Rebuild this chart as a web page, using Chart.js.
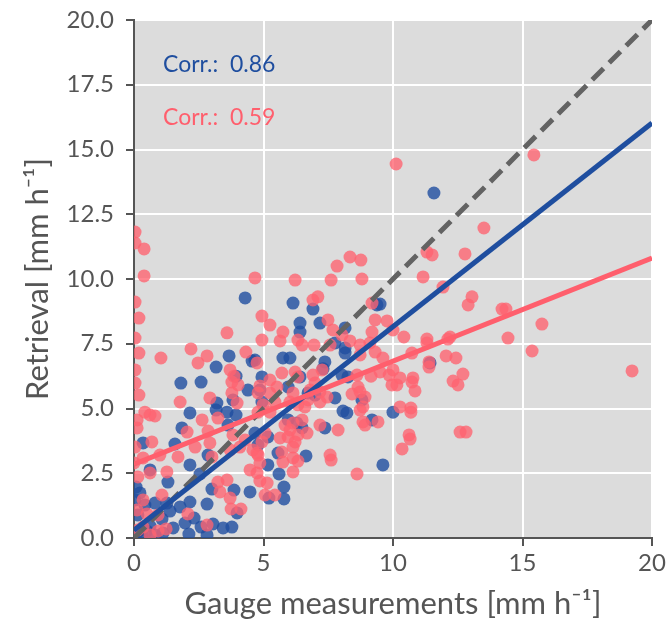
<!DOCTYPE html>
<html><head><meta charset="utf-8">
<script src="https://cdn.jsdelivr.net/npm/chart.js@4.4.0/dist/chart.umd.min.js"></script>
<style>html,body{margin:0;padding:0;background:#fff}#wrap{width:667px;height:628px}</style>
</head><body><div id="wrap"><canvas id="c" width="667" height="628"></canvas></div>
<script>
const xTicks = [0, 5, 10, 15, 20];
const yTicks = [0, 2.5, 5, 7.5, 10, 12.5, 15, 17.5, 20];

const redX = [0.04,0.04,0.39,0.39,0.04,0.19,0.04,0.19,0.04,0.04,0.19,0.12,0.12,0.42,0.62,0.81,1.04,2.20,2.47,2.82,
3.59,4.67,4.94,5.25,4.94,4.32,3.71,3.86,3.78,4.02,3.78,4.75,4.86,4.79,5.25,5.52,6.14,3.98,2.93,1.78,
2.63,3.24,2.86,2.05,3.82,4.09,4.29,3.71,4.59,4.86,5.64,5.71,6.14,6.14,6.14,5.95,5.44,5.06,3.59,3.24,
3.32,3.71,3.75,4.13,4.48,4.75,4.86,5.14,0.69,0.04,0.35,1.00,1.70,0.15,0.62,1.27,0.35,1.08,0.12,0.50,
0.93,2.08,2.82,0.35,0.93,1.24,0.00,2.36,2.93,3.01,4.75,7.57,7.61,8.61,4.94,6.22,4.79,6.33,5.64,5.75,
6.33,6.49,6.95,7.57,8.34,8.73,9.19,9.31,9.11,9.61,8.73,7.49,7.68,8.03,9.19,9.31,9.77,10.42,10.73,11.31,
11.31,12.20,12.05,12.43,12.70,12.32,12.51,10.77,10.73,10.85,9.85,10.00,10.27,9.96,10.15,9.50,9.15,10.27,10.69,10.69,
10.62,10.66,10.35,12.59,12.82,8.65,8.92,8.84,8.73,8.84,8.92,9.42,8.42,7.88,6.02,6.33,6.68,7.18,5.83,6.14,
5.25,5.71,6.22,6.33,6.91,7.26,6.99,7.18,7.45,6.80,6.72,6.33,6.02,5.44,4.98,4.79,5.25,6.60,7.18,6.49,
5.06,8.73,8.61,8.34,8.76,7.84,6.22,7.61,8.80,11.31,11.51,11.16,11.93,6.91,7.10,12.78,13.05,12.90,10.12,15.44,
13.51,14.21,14.36,15.75,14.44,15.37,19.23,10.00,12.12,11.39,11.39,0.15,0.62,5.75];
const redY = [11.81,11.39,11.16,10.12,9.11,8.49,7.72,7.14,6.49,5.98,5.52,4.56,4.25,4.86,4.75,4.71,6.95,7.30,6.76,7.03,
7.92,10.04,8.57,8.22,7.64,7.18,6.49,6.25,6.02,5.91,5.60,6.76,5.87,5.60,5.60,5.83,5.60,5.21,5.41,5.25,
4.56,4.63,4.13,4.09,3.98,3.51,3.78,3.40,3.40,2.90,3.86,3.32,3.51,3.09,2.55,3.90,1.66,1.66,2.24,2.16,
1.78,1.54,1.12,1.12,2.63,2.51,2.20,2.12,3.71,3.51,3.09,3.20,3.13,2.36,2.51,2.55,1.47,1.66,1.08,0.93,
0.89,0.93,0.50,0.42,0.27,0.35,2.90,3.51,3.67,3.13,3.28,3.20,3.01,2.47,3.71,3.71,3.20,2.97,7.61,7.95,
7.64,7.45,7.45,7.45,7.61,7.45,7.95,7.18,7.53,6.95,7.07,8.42,8.03,7.84,9.07,8.42,8.38,7.76,7.14,7.68,
7.53,7.76,7.03,6.95,6.33,6.06,5.91,6.18,6.02,5.68,6.29,6.49,6.18,5.91,5.91,6.41,6.25,5.06,5.02,4.86,
3.98,3.82,3.44,4.09,4.09,5.83,5.44,5.06,4.94,4.48,4.36,4.48,5.56,4.17,4.17,3.98,4.05,4.36,4.36,4.44,
6.10,6.37,6.41,6.22,6.29,6.49,5.98,5.64,5.44,5.71,5.33,5.14,5.25,5.25,5.14,4.86,4.86,5.06,5.25,4.56,
4.05,5.64,6.29,10.85,10.73,10.50,9.96,9.96,10.00,11.04,10.93,10.08,9.69,9.19,9.31,10.97,9.31,9.00,14.44,14.79,
11.97,8.84,8.84,8.26,7.72,7.22,6.45,8.03,7.68,6.80,6.60,0.31,0.12,2.93];

const blueX = [4.29,6.14,6.91,6.41,6.41,7.18,8.15,7.76,8.15,8.15,9.38,5.75,6.02,4.67,3.67,4.56,3.17,2.59,1.81,4.94,
3.94,4.40,5.95,6.41,7.37,7.30,8.03,8.26,4.86,6.99,6.72,7.76,8.80,3.20,3.82,3.17,3.59,3.94,2.16,1.85,
3.63,4.94,5.95,6.29,6.49,7.37,4.67,5.17,8.07,8.22,9.19,10.00,9.61,11.43,9.50,11.58,0.35,1.58,5.56,6.64,
5.17,5.60,5.79,5.79,5.21,4.79,2.86,2.16,2.55,1.31,3.01,3.86,4.48,2.16,2.82,1.78,1.39,1.08,2.32,1.97,
2.59,3.05,3.78,1.51,0.62,0.15,0.23,0.08,0.50,1.12,2.12,2.82,0.12,0.81,3.98,0.62,3.44,0.04,0.42,0.31,
0.81,1.27];
const blueY = [9.27,9.07,8.84,8.30,7.95,8.30,8.11,7.53,7.34,7.14,9.00,6.95,6.95,6.87,7.03,6.83,6.60,6.02,5.98,6.22,
6.25,5.71,5.83,6.22,6.80,6.53,6.29,6.22,5.71,5.52,5.60,5.41,5.33,5.21,5.33,4.94,4.86,4.75,4.83,4.25,
4.36,5.25,4.56,4.44,4.25,4.25,4.05,3.90,4.90,4.83,4.56,4.86,2.82,6.76,9.03,13.32,3.67,3.63,3.28,3.17,
2.82,2.47,1.97,1.51,1.54,3.59,3.20,2.82,2.47,2.16,1.89,1.85,1.78,1.39,1.31,1.20,1.04,0.73,0.77,0.58,
0.42,0.54,0.42,0.39,0.46,0.89,1.74,1.97,0.27,0.19,0.15,0.12,0.19,1.35,0.97,2.63,0.39,1.47,1.27,0.12,
0.12,1.35];

const lineX = [0, 20];
const oneToOneY = [0, 20];
const blueFitY = [0.30, 16.02];
const redFitY = [2.85, 10.81];

const corrText = ['Corr.:  0.86', 'Corr.:  0.59'];

const toPts = (xs, ys) => xs.map((x, i) => ({x: x, y: ys[i]}));

const BLUE = '#1f4e9f';
const RED = '#ff5f6d';
const TXT = '#555555';
const FONT = 'Lato, "DejaVu Sans", sans-serif';

const bgPlugin = {
  id: 'bg',
  beforeDraw(chart) {
    const a = chart.chartArea, c = chart.ctx;
    c.save();
    c.fillStyle = '#dcdcdc';
    c.fillRect(a.left, a.top, a.right - a.left, a.bottom - a.top);
    c.restore();
  }
};
const textPlugin = {
  id: 'corr',
  afterDraw(chart) {
    const c = chart.ctx, xs = chart.scales.x, ys = chart.scales.y;
    const cols = [BLUE, RED];
    const yPos = [18.26, 16.25];
    c.save();
    c.font = '23px ' + FONT;
    c.textAlign = 'left';
    c.textBaseline = 'middle';
    corrText.forEach((t, i) => {
      c.fillStyle = cols[i];
      c.fillText(t, xs.getPixelForValue(1.12), ys.getPixelForValue(yPos[i]));
    });
    c.restore();
  }
};

new Chart(document.getElementById('c'), {
  type: 'scatter',
  data: {
    datasets: [
      {data: toPts(lineX, redFitY), showLine: true, borderColor: RED, borderWidth: 5, pointRadius: 0, order: 0},
      {data: toPts(lineX, blueFitY), showLine: true, borderColor: BLUE, borderWidth: 5, pointRadius: 0, order: 1},
      {data: toPts(lineX, oneToOneY), showLine: true, borderColor: '#636363', borderWidth: 5, borderDash: [16, 8], pointRadius: 0, order: 2},
      {data: toPts(redX, redY), backgroundColor: 'rgba(255,99,112,0.78)', borderWidth: 0, pointRadius: 6.5, order: 3},
      {data: toPts(blueX, blueY), backgroundColor: 'rgba(31,78,160,0.8)', borderWidth: 0, pointRadius: 6.5, order: 4}
    ]
  },
  options: {
    responsive: false,
    animation: false,
    devicePixelRatio: 1,
    layout: {padding: {top: 20, right: 15, left: 0, bottom: 0}},
    plugins: {legend: {display: false}, tooltip: {enabled: false}},
    scales: {
      x: {
        type: 'linear', min: 0, max: 20,
        afterBuildTicks: s => { s.ticks = xTicks.map(v => ({value: v})); },
        afterFit: s => { s.height = 90; s.paddingLeft = 0; s.paddingRight = 0; },
        ticks: {font: {family: FONT, size: 24}, color: TXT, padding: 3, callback: v => String(v)},
        grid: {color: '#ffffff', lineWidth: 2, tickColor: TXT, tickLength: 8, tickWidth: 2},
        border: {display: true, color: TXT, width: 2},
        title: {display: true, text: 'Gauge measurements [mm h⁻¹]', font: {family: FONT, size: 31}, color: TXT, padding: {top: 0, bottom: 5}}
      },
      y: {
        type: 'linear', min: 0, max: 20,
        afterBuildTicks: s => { s.ticks = yTicks.map(v => ({value: v})); },
        afterFit: s => { s.width = 134; s.paddingTop = 0; s.paddingBottom = 0; },
        ticks: {font: {family: FONT, size: 24}, color: TXT, padding: 12, callback: v => Number(v).toFixed(1)},
        grid: {color: '#ffffff', lineWidth: 2, tickColor: TXT, tickLength: 8, tickWidth: 2},
        border: {display: true, color: TXT, width: 2},
        title: {display: true, text: 'Retrieval [mm h⁻¹]', font: {family: FONT, size: 31}, color: TXT, padding: {top: 19, bottom: 0}}
      }
    }
  },
  plugins: [bgPlugin, textPlugin]
});
</script>
</body></html>
